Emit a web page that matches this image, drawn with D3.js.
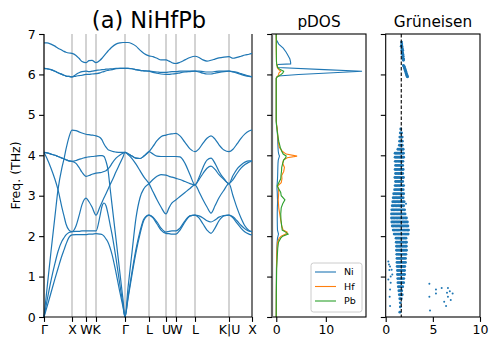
<!DOCTYPE html>
<html>
<head>
<meta charset="utf-8">
<script src="https://cdn.jsdelivr.net/npm/d3@7"></script>
<style>
    body { margin: 0; background: #fff; }
    svg { display: block; }
    text { font-family: "DejaVu Sans", sans-serif; fill: #000; }
</style>
</head>
<body>
<svg id="chart" width="498" height="349"></svg>
<script>
// high-symmetry path (distance along path) and labels
const kTicks = [0, 28, 42, 52, 81, 105, 122, 132, 151, 185, 208];
const kLabels = ['Γ', 'X', 'W', 'K', 'Γ', 'L', 'U', 'W', 'L', 'K|U', 'X'];

// sample points along the path
const kGrid = [0, 3, 7, 11, 14, 18, 20, 22, 25, 28, 32, 35, 38, 42, 45, 48, 52,
    56, 58, 60, 62, 64, 66, 68, 72, 76, 79, 81, 84, 88, 92, 96, 100, 105,
    109, 113, 117, 122, 125, 128, 132, 136, 141, 146, 151,
    155, 159, 163, 167, 171, 175, 180, 185, 189, 193, 197, 201, 205, 208];

// phonon bands (THz)
const band1 = [0, 0.25, 0.6, 0.95, 1.2, 1.52, 1.66, 1.8, 1.97, 2.03, 2.04, 2.04, 2.04, 2.04, 2.05, 2.05, 2.06,
    2.05, 2.04, 2.0, 1.93, 1.85, 1.72, 1.55, 1.1, 0.6, 0.25, 0, 0.45, 1.05, 1.6, 2.05, 2.4, 2.52,
    2.45, 2.3, 2.15, 2.07, 2.06, 2.05, 2.05, 2.15, 2.35, 2.5, 2.52,
    2.45, 2.3, 2.15, 2.07, 2.2, 2.38, 2.5, 2.52, 2.45, 2.32, 2.2, 2.1, 2.05, 2.03];
const band2 = [0, 0.4, 0.9, 1.33, 1.62, 1.88, 1.96, 2.03, 2.09, 2.11, 2.12, 2.12, 2.13, 2.13, 2.13, 2.13, 2.13,
    2.5, 2.74, 2.82, 2.75, 2.55, 2.3, 2.05, 1.45, 0.78, 0.3, 0, 0.5, 1.12, 1.68, 2.12, 2.43, 2.52,
    2.47, 2.35, 2.2, 2.1, 2.12, 2.13, 2.13, 2.2, 2.38, 2.5, 2.52,
    2.5, 2.45, 2.38, 2.35, 2.4, 2.47, 2.51, 2.52, 2.48, 2.38, 2.27, 2.18, 2.12, 2.11];
const band3 = [0, 0.7, 1.62, 2.5, 3.15, 3.7, 3.91, 4.15, 4.45, 4.62, 4.61, 4.58, 4.55, 4.52, 4.51, 4.5, 4.48,
    4.44, 4.38, 4.28, 4.2, 4.14, 4.12, 4.1, 4.08, 4.07, 4.07, 4.07, 4.04, 3.98, 3.93, 3.92, 3.98, 4.09,
    4.22, 4.36, 4.46, 4.5, 4.52, 4.53, 4.54, 4.48, 4.32, 4.16, 4.09,
    4.16, 4.3, 4.42, 4.48, 4.4, 4.26, 4.13, 4.09, 4.15, 4.28, 4.42, 4.53, 4.6, 4.63];
const band4 = [4.07, 3.92, 3.68, 3.4, 3.15, 2.7, 2.5, 2.3, 2.15, 2.11, 2.25, 2.5, 2.78, 2.94, 2.85, 2.72, 2.52,
    2.73, 2.84, 2.95, 3.05, 3.16, 3.27, 3.37, 3.59, 3.8, 3.96, 4.07, 4.02, 3.92, 3.78, 3.62, 3.46, 3.3,
    3.1, 2.9, 2.72, 2.55, 2.7, 2.82, 2.9, 2.98, 3.08, 3.18, 3.27,
    3.1, 2.9, 2.72, 2.57, 2.75, 2.95, 3.14, 3.3, 3.0, 2.7, 2.45, 2.25, 2.14, 2.11];
const band5 = [4.07, 4.06, 4.03, 4.0, 3.97, 3.93, 3.91, 3.89, 3.86, 3.85, 3.87, 3.9, 3.92, 3.95, 3.96, 3.97, 3.98,
    3.99, 3.99, 3.97, 3.85, 3.64, 3.21, 2.78, 1.93, 1.07, 0.43, 0, 0.72, 1.6, 2.45, 2.95, 3.18, 3.3,
    3.4, 3.48, 3.52, 3.51, 3.48, 3.46, 3.43, 3.4, 3.35, 3.3, 3.27,
    3.4, 3.55, 3.68, 3.73, 3.65, 3.52, 3.4, 3.3, 3.4, 3.55, 3.68, 3.77, 3.83, 3.86];
const band6 = [4.07, 4.06, 4.03, 4.0, 3.97, 3.93, 3.91, 3.89, 3.86, 3.85, 3.8, 3.7, 3.58, 3.48, 3.5, 3.53, 3.56,
    3.57, 3.58, 3.6, 3.62, 3.66, 3.72, 3.8, 3.93, 4.01, 4.05, 4.07, 4.04, 3.98, 3.93, 3.92, 3.98, 4.09,
    4.03, 3.98, 3.97, 3.97, 3.97, 3.97, 3.97, 3.96, 3.8, 3.52, 3.27,
    3.45, 3.7, 3.88, 3.93, 3.8, 3.6, 3.42, 3.3, 3.5, 3.66, 3.76, 3.83, 3.86, 3.86];
const band7 = [6.15, 6.14, 6.12, 6.08, 6.04, 6.0, 5.98, 5.96, 5.95, 5.94, 5.96, 5.97, 5.98, 6.0, 6.0, 6.01, 6.02,
    6.04, 6.06, 6.07, 6.09, 6.1, 6.11, 6.12, 6.14, 6.15, 6.15, 6.15, 6.15, 6.14, 6.12, 6.1, 6.09, 6.08,
    6.05, 6.03, 6.01, 6.0, 6.0, 6.01, 6.02, 6.04, 6.06, 6.07, 6.08,
    6.06, 6.03, 6.01, 6.01, 6.03, 6.05, 6.07, 6.08, 6.06, 6.03, 6.0, 5.97, 5.95, 5.94];
const band8 = [6.15, 6.14, 6.12, 6.08, 6.04, 6.0, 5.98, 5.96, 5.95, 5.94, 6.0, 6.04, 6.07, 6.08, 6.07, 6.08, 6.1,
    6.11, 6.12, 6.12, 6.13, 6.13, 6.14, 6.14, 6.15, 6.15, 6.15, 6.15, 6.15, 6.14, 6.12, 6.1, 6.09, 6.08,
    6.07, 6.06, 6.05, 6.05, 6.06, 6.07, 6.07, 6.08, 6.08, 6.08, 6.08,
    6.08, 6.07, 6.06, 6.06, 6.07, 6.08, 6.08, 6.08, 6.07, 6.05, 6.02, 5.99, 5.96, 5.94];
const band9 = [6.78, 6.78, 6.75, 6.7, 6.65, 6.6, 6.57, 6.55, 6.53, 6.52, 6.47, 6.4, 6.32, 6.29, 6.34, 6.35, 6.29,
    6.35, 6.4, 6.46, 6.52, 6.58, 6.63, 6.68, 6.75, 6.78, 6.79, 6.79, 6.79, 6.76, 6.7, 6.6, 6.52, 6.46,
    6.44, 6.4, 6.36, 6.36, 6.33, 6.29, 6.27, 6.3, 6.36, 6.42, 6.45,
    6.42, 6.36, 6.33, 6.35, 6.38, 6.41, 6.43, 6.44, 6.4, 6.42, 6.45, 6.48, 6.5, 6.52];
const bands = [band1, band2, band3, band4, band5, band6, band7, band8, band9];

// projected DOS
const dosFreq = [0, 0.6, 1.2, 1.5, 1.7, 1.85, 1.95, 2.0, 2.05, 2.1, 2.15, 2.25, 2.4, 2.55, 2.7, 2.8, 2.9,
    3.0, 3.08, 3.16, 3.24, 3.32, 3.42, 3.5, 3.6, 3.7, 3.8, 3.88, 3.94, 3.98, 4.03, 4.1, 4.2, 4.35, 4.5,
    4.65, 4.75, 4.85, 5.5, 5.9, 5.93, 5.96, 6.0, 6.03, 6.08, 6.12, 6.17, 6.22, 6.245, 6.26, 6.3, 6.38,
    6.46, 6.55, 6.65, 6.75, 6.85, 6.95, 7.0];
const dosNi = [0, 0.01, 0.04, 0.08, 0.12, 0.18, 0.25, 0.35, 0.45, 0.35, 0.25, 0.22, 0.2, 0.2, 0.22, 0.25, 0.25,
    0.22, 0.2, 0.15, 0.15, 0.2, 0.25, 0.28, 0.3, 0.32, 0.35, 0.4, 0.55, 0.65, 0.5, 0.4, 0.35, 0.3, 0.25,
    0.15, 0.05, 0, 0, 0, 0.05, 0.4, 4.5, 9.5, 17.3, 9.7, 0.3, 0.2, 0.3, 2.9, 2.9, 2.75,
    2.4, 2.0, 1.4, 0.5, 0.05, 0, 0];
const dosHf = [0, 0.01, 0.05, 0.1, 0.15, 0.25, 0.6, 1.0, 1.9, 2.2, 1.4, 1.1, 0.9, 0.7, 0.5, 0.45, 0.4,
    0.45, 0.5, 0.45, 0.25, 1.0, 1.15, 1.1, 1.5, 1.65, 1.3, 1.45, 2.2, 4.2, 2.0, 1.2, 0.6, 0.4, 0.3,
    0.2, 0.08, 0, 0, 0, 0.05, 0.3, 0.5, 0.5, 0.9, 0.5, 0.2, 0.2, 0.15, 0.1, 0.05, 0.03,
    0.02, 0.01, 0, 0, 0, 0, 0];
const dosPb = [0, 0.02, 0.08, 0.2, 0.3, 0.45, 0.9, 1.3, 2.4, 1.9, 1.2, 1.1, 0.95, 0.9, 1.0, 1.3, 1.75,
    1.0, 0.9, 0.55, 0.2, 0.5, 0.9, 0.95, 1.05, 1.1, 1.3, 1.5, 1.9, 2.0, 1.4, 1.1, 0.8, 0.5, 0.3,
    0.15, 0.05, 0, 0, 0, 0.1, 0.5, 1.0, 1.3, 1.5, 0.8, 0.3, 0.15, 0.1, 0.08, 0.05, 0.03,
    0.02, 0.01, 0, 0, 0, 0, 0];
const dosSeries = [
    { label: 'Ni', color: '#1f77b4', values: dosNi },
    { label: 'Hf', color: '#ff7f0e', values: dosHf },
    { label: 'Pb', color: '#2ca02c', values: dosPb }
];

// Grüneisen parameters: [freq, [gamma, ...]] for the dense part
const gruneisenCore = [
    [4.65, [1.6]], [4.55, [1.55, 1.68]], [4.45, [1.5, 1.63, 1.75]], [4.35, [1.48, 1.62, 1.76]],
    [4.25, [1.45, 1.6, 1.75]], [4.15, [1.3, 1.45, 1.6, 1.75, 1.85]],
    [4.05, [1.0, 1.15, 1.3, 1.45, 1.6, 1.75, 1.88]], [3.95, [1.0, 1.15, 1.3, 1.45, 1.6, 1.75, 1.9]],
    [3.85, [1.02, 1.18, 1.34, 1.5, 1.66, 1.82]], [3.75, [1.05, 1.2, 1.35, 1.5, 1.65, 1.8]],
    [3.65, [1.0, 1.15, 1.3, 1.45, 1.6, 1.75, 1.85]], [3.55, [1.05, 1.2, 1.35, 1.5, 1.65, 1.8]],
    [3.45, [0.98, 1.12, 1.28, 1.44, 1.6, 1.76, 1.88]], [3.35, [1.05, 1.2, 1.35, 1.5, 1.65, 1.8]],
    [3.25, [1.0, 1.15, 1.3, 1.45, 1.6, 1.75, 1.9]], [3.15, [0.95, 1.1, 1.25, 1.4, 1.55, 1.7, 1.85]],
    [3.05, [0.85, 1.0, 1.15, 1.3, 1.45, 1.6, 1.75, 1.9]], [2.95, [0.8, 0.95, 1.1, 1.25, 1.4, 1.55, 1.7, 1.85]],
    [2.85, [0.75, 0.9, 1.05, 1.2, 1.35, 1.5, 1.65, 1.8, 1.95]],
    [2.75, [0.7, 0.85, 1.0, 1.15, 1.3, 1.45, 1.6, 1.75, 1.9]],
    [2.65, [0.65, 0.8, 0.95, 1.1, 1.25, 1.4, 1.55, 1.7, 1.85, 2.0]],
    [2.55, [0.62, 0.78, 0.94, 1.1, 1.26, 1.42, 1.58, 1.74, 1.9, 2.05]],
    [2.45, [0.62, 0.78, 0.94, 1.1, 1.26, 1.42, 1.58, 1.74, 1.9, 2.06, 2.2]],
    [2.35, [0.65, 0.8, 0.95, 1.1, 1.25, 1.4, 1.55, 1.7, 1.85, 2.0, 2.15, 2.3]],
    [2.25, [0.7, 0.85, 1.0, 1.15, 1.3, 1.45, 1.6, 1.75, 1.9, 2.05, 2.2, 2.35]],
    [2.15, [0.8, 0.95, 1.1, 1.25, 1.4, 1.55, 1.7, 1.85, 2.0, 2.15, 2.3, 2.42]],
    [2.05, [0.9, 1.05, 1.2, 1.35, 1.5, 1.65, 1.8, 1.95, 2.1, 2.25, 2.38]],
    [1.95, [1.1, 1.25, 1.4, 1.55, 1.7, 1.85, 2.0, 2.15]],
    [1.85, [1.12, 1.28, 1.44, 1.6, 1.76, 1.92, 2.08, 2.2]],
    [1.75, [1.15, 1.3, 1.45, 1.6, 1.75, 1.9, 2.05, 2.18]],
    [1.65, [1.15, 1.3, 1.45, 1.6, 1.75, 1.9, 2.05, 2.2]],
    [1.55, [1.18, 1.34, 1.5, 1.66, 1.82, 1.98, 2.14]], [1.45, [1.2, 1.35, 1.5, 1.65, 1.8, 1.95, 2.1]],
    [1.35, [1.2, 1.35, 1.5, 1.65, 1.8, 1.95, 2.1]], [1.25, [1.22, 1.38, 1.54, 1.7, 1.86, 2.02]],
    [1.15, [1.25, 1.4, 1.55, 1.7, 1.85, 2.0]], [1.05, [1.25, 1.4, 1.55, 1.7, 1.85, 2.0]],
    [0.95, [1.28, 1.44, 1.6, 1.76, 1.92]], [0.85, [1.3, 1.45, 1.6, 1.75, 1.9]],
    [0.75, [1.35, 1.5, 1.65, 1.8]], [0.65, [1.4, 1.55, 1.7]], [0.55, [1.45, 1.6, 1.75]],
    [0.45, [1.5, 1.65]], [0.35, [1.55]], [0.25, [1.55]], [0.12, [1.5]]
];
// scattered points: [gamma, freq]
const gruneisenHigh = [[1.68, 6.8], [1.7, 6.75], [1.72, 6.7], [1.65, 6.7], [1.75, 6.65], [1.72, 6.6],
    [1.8, 6.6], [1.78, 6.55], [1.82, 6.5], [1.75, 6.5], [1.85, 6.45], [1.82, 6.4], [1.9, 6.38],
    [1.88, 6.35], [1.88, 6.22], [1.95, 6.2], [1.98, 6.17], [2.02, 6.15], [2.05, 6.12], [2.08, 6.1],
    [2.12, 6.08], [2.15, 6.05], [2.18, 6.02], [2.22, 6.0], [2.25, 5.98], [2.28, 5.95], [2.32, 5.94]];
const gruneisenLow = [[0.28, 1.37], [0.35, 1.3], [0.46, 1.25], [0.39, 1.16], [0.63, 1.17], [0.53, 1.0],
    [0.28, 0.93], [0.53, 0.85], [0.46, 0.68], [0.42, 0.5], [0.46, 0.27], [0.7, 1.05], [2.15, 2.8],
    [4.63, 0.82], [4.63, 0.5], [4.7, 0.16], [5.33, 0.68], [5.33, 0.58], [5.94, 0.72], [6.2, 0.38],
    [6.4, 0.27], [6.6, 0.72], [6.5, 0.6], [6.8, 0.64], [7.1, 0.58], [6.9, 0.42], [6.6, 0.5]];
const gruneisenMean = 1.65;

const blue = '#1f77b4';
const fTicks = [0, 1, 2, 3, 4, 5, 6, 7];
const plotTop = 34, plotBottom = 317;

const svg = d3.select('#chart');

const y = d3.scaleLinear().domain([0, 7]).range([plotBottom, plotTop]);
const xBand = d3.scaleLinear().domain([0, 208]).range([44, 252]);
const xDos = d3.scaleLinear().domain([-0.86, 18.1]).range([272, 366]);
const xGru = d3.scaleLinear().domain([0, 10]).range([385.7, 480]);

// shared axis styling
const styleAxis = (g) => {
    g.select('.domain').remove();
    g.selectAll('.tick line').attr('stroke', '#000').attr('stroke-width', 1.1);
    g.selectAll('.tick text').attr('font-size', 12.5).attr('fill', '#000')
        .attr('font-family', '"DejaVu Sans", sans-serif');
};

const yAxis = (x0, labels) => svg.append('g')
    .attr('transform', `translate(${x0},0)`)
    .call(d3.axisLeft(y).tickValues(fTicks).tickSize(4.9).tickPadding(3.5)
        .tickFormat(labels ? d3.format('d') : () => ''))
    .call(styleAxis);

// ---- band structure ----
svg.append('g')
    .selectAll('line')
    .data(kTicks)
    .enter()
    .append('line')
    .attr('x1', d => xBand(d)).attr('x2', d => xBand(d))
    .attr('y1', plotTop).attr('y2', plotBottom)
    .attr('stroke', d => d === 208 ? '#777' : '#c4c4c4')
    .attr('stroke-width', d => d === 208 ? 2 : 1.5);

const bandLine = d3.line()
    .x((d, i) => xBand(kGrid[i]))
    .y(d => y(d))
    .curve(d3.curveMonotoneX);

svg.append('g')
    .selectAll('path')
    .data(bands)
    .enter()
    .append('path')
    .attr('d', bandLine)
    .attr('fill', 'none')
    .attr('stroke', blue)
    .attr('stroke-width', 1.2);

svg.append('line').attr('x1', 44).attr('x2', 44).attr('y1', plotTop).attr('y2', plotBottom)
    .attr('stroke', '#000').attr('stroke-width', 1.1);
svg.append('line').attr('x1', 44).attr('x2', 252).attr('y1', plotBottom).attr('y2', plotBottom)
    .attr('stroke', '#000').attr('stroke-width', 1.1);

yAxis(44, true);
svg.append('g')
    .attr('transform', `translate(0,${plotBottom})`)
    .call(d3.axisBottom(xBand).tickValues(kTicks).tickSize(4.9).tickPadding(3.5)
        .tickFormat((d, i) => kLabels[i]))
    .call(styleAxis);

svg.append('text')
    .attr('transform', `translate(20,${(plotTop + plotBottom) / 2}) rotate(-90)`)
    .attr('text-anchor', 'middle')
    .attr('font-size', 12.5)
    .text('Freq. (THz)');

svg.append('text')
    .attr('x', 149).attr('y', 27.5)
    .attr('text-anchor', 'middle')
    .attr('font-size', 22.5)
    .text('(a) NiHfPb');

// ---- pDOS ----
const dosLine = d3.line()
    .x(d => xDos(d))
    .y((d, i) => y(dosFreq[i]));

svg.append('g')
    .selectAll('path')
    .data(dosSeries)
    .enter()
    .append('path')
    .attr('d', d => dosLine(d.values))
    .attr('fill', 'none')
    .attr('stroke', d => d.color)
    .attr('stroke-width', 1.1);

svg.append('rect').attr('x', 272).attr('y', plotTop).attr('width', 94).attr('height', plotBottom - plotTop)
    .attr('fill', 'none').attr('stroke', '#000').attr('stroke-width', 1.1);
svg.append('line').attr('x1', 272).attr('x2', 272).attr('y1', plotTop).attr('y2', plotBottom)
    .attr('stroke', '#666').attr('stroke-width', 2.2);

yAxis(272, false);
svg.append('g')
    .attr('transform', `translate(0,${plotBottom})`)
    .call(d3.axisBottom(xDos).tickValues([0, 10]).tickSize(4.9).tickPadding(3.5))
    .call(styleAxis);

svg.append('text')
    .attr('x', 319).attr('y', 27)
    .attr('text-anchor', 'middle')
    .attr('font-size', 15.3)
    .text('pDOS');

// legend
const legend = svg.append('g').attr('transform', 'translate(311,263)');
legend.append('rect')
    .attr('width', 51).attr('height', 49).attr('rx', 2.5)
    .attr('fill', '#fff').attr('fill-opacity', 0.8)
    .attr('stroke', '#ccc').attr('stroke-width', 1);
const entry = legend.selectAll('.entry')
    .data(dosSeries)
    .enter()
    .append('g')
    .attr('class', 'entry')
    .attr('transform', (d, i) => `translate(0,${9 + i * 14.5})`);
entry.append('line')
    .attr('x1', 4).attr('x2', 25)
    .attr('stroke', d => d.color).attr('stroke-width', 1.1);
entry.append('text')
    .attr('x', 33).attr('dy', '0.35em')
    .attr('font-size', 9.5)
    .text(d => d.label);

// ---- Grüneisen ----
const corePoints = gruneisenCore.flatMap(([f, gs]) => gs.map(g => [g, f]));

svg.append('g')
    .selectAll('circle')
    .data(corePoints.concat(gruneisenHigh))
    .enter()
    .append('circle')
    .attr('cx', d => xGru(d[0]))
    .attr('cy', d => y(d[1]))
    .attr('r', 1.45)
    .attr('fill', blue);

svg.append('g')
    .selectAll('circle')
    .data(gruneisenLow)
    .enter()
    .append('circle')
    .attr('cx', d => xGru(d[0]))
    .attr('cy', d => y(d[1]))
    .attr('r', 1)
    .attr('fill', blue);

svg.append('line')
    .attr('x1', xGru(gruneisenMean)).attr('x2', xGru(gruneisenMean))
    .attr('y1', plotTop).attr('y2', plotBottom)
    .attr('stroke', '#000').attr('stroke-width', 1.1)
    .attr('stroke-dasharray', '3.5,2');

svg.append('rect').attr('x', 385.7).attr('y', plotTop).attr('width', 94.3).attr('height', plotBottom - plotTop)
    .attr('fill', 'none').attr('stroke', '#000').attr('stroke-width', 1.1);

yAxis(385.7, false);
svg.append('g')
    .attr('transform', `translate(0,${plotBottom})`)
    .call(d3.axisBottom(xGru).tickValues([0, 5, 10]).tickSize(4.9).tickPadding(3.5))
    .call(styleAxis);

svg.append('text')
    .attr('x', 433).attr('y', 27)
    .attr('text-anchor', 'middle')
    .attr('font-size', 15.3)
    .text('Grüneisen');
</script>
</body>
</html>
